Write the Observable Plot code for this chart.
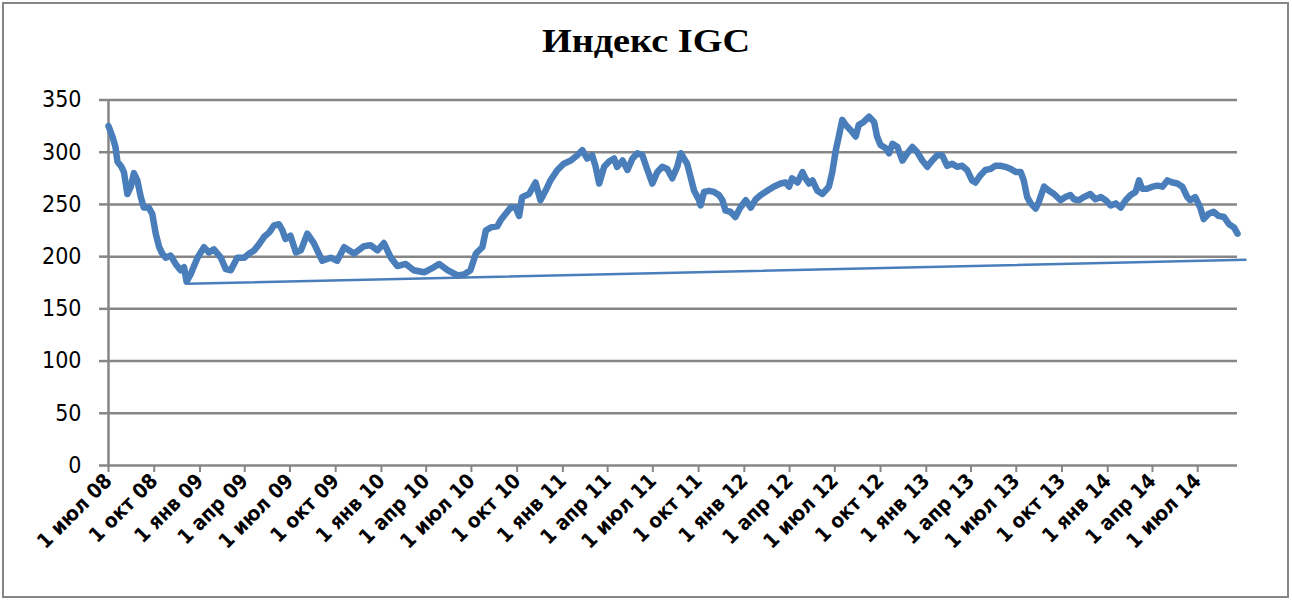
<!DOCTYPE html>
<html><head><meta charset="utf-8">
<script src="https://cdn.jsdelivr.net/npm/d3@7"></script>
<script src="https://cdn.jsdelivr.net/npm/@observablehq/plot@0.6"></script>
<style>
body{margin:0;background:#fff;}
#frame{position:absolute;left:2px;top:2px;width:1287px;height:596px;box-sizing:border-box;border:2px solid #868686;}
#title{position:absolute;left:0;top:23px;width:1292px;text-align:center;font:bold 33px/36px "Liberation Serif","Times New Roman",serif;color:#000;transform:scaleX(1.16);transform-origin:646px 0;}
#chart{position:absolute;left:0;top:80px;}
</style></head><body>
<div id="frame"></div>
<div id="title">Индекс IGC</div>
<div id="chart"></div>
<script>
// IGC index values
const dates = [
"2008-07-01","2008-07-09","2008-07-15","2008-07-19","2008-07-27","2008-08-01","2008-08-08","2008-08-15","2008-08-21","2008-08-28",
"2008-09-04","2008-09-10","2008-09-20","2008-09-27","2008-10-04","2008-10-11","2008-10-17","2008-10-24","2008-11-03","2008-11-13",
"2008-11-23","2008-11-30","2008-12-05","2008-12-13","2008-12-27","2009-01-09","2009-01-19","2009-01-29","2009-02-12","2009-02-22",
"2009-03-04","2009-03-17","2009-03-31","2009-04-10","2009-04-20","2009-04-30","2009-05-10","2009-05-20","2009-05-30","2009-06-09",
"2009-06-16","2009-06-22","2009-07-02","2009-07-13","2009-07-23","2009-08-05","2009-08-18","2009-09-04","2009-09-21","2009-10-04",
"2009-10-18","2009-11-07","2009-11-27","2009-12-10","2009-12-24","2010-01-06","2010-01-20","2010-02-02","2010-02-19","2010-03-07",
"2010-03-28","2010-04-17","2010-04-27","2010-05-14","2010-06-03","2010-06-16","2010-06-29","2010-07-10","2010-07-23","2010-07-30",
"2010-08-09","2010-08-22","2010-08-29","2010-09-08","2010-09-18","2010-09-28","2010-10-05","2010-10-11","2010-10-25","2010-11-07",
"2010-11-17","2010-11-27","2010-12-07","2010-12-21","2011-01-03","2011-01-17","2011-01-30","2011-02-09","2011-02-19","2011-03-01",
"2011-03-08","2011-03-15","2011-03-25","2011-04-04","2011-04-14","2011-04-20","2011-05-01","2011-05-11","2011-05-21","2011-05-31",
"2011-06-10","2011-06-20","2011-06-30","2011-07-10","2011-07-20","2011-07-30","2011-08-09","2011-08-19","2011-08-26","2011-09-08",
"2011-09-15","2011-09-22","2011-10-02","2011-10-05","2011-10-12","2011-10-22","2011-11-01","2011-11-11","2011-11-18","2011-11-24",
"2011-12-04","2011-12-14","2011-12-24","2012-01-04","2012-01-14","2012-01-24","2012-02-03","2012-02-16","2012-02-29","2012-03-14",
"2012-03-24","2012-03-31","2012-04-06","2012-04-17","2012-04-27","2012-05-03","2012-05-10","2012-05-17","2012-05-27","2012-06-06",
"2012-06-12","2012-06-19","2012-06-26","2012-07-03","2012-07-09","2012-07-16","2012-07-23","2012-08-02","2012-08-12","2012-08-18",
"2012-08-28","2012-09-08","2012-09-18","2012-09-24","2012-10-01","2012-10-11","2012-10-18","2012-10-25","2012-11-04","2012-11-14",
"2012-11-24","2012-12-04","2012-12-14","2012-12-24","2013-01-03","2013-01-13","2013-01-23","2013-02-02","2013-02-12","2013-02-22",
"2013-03-04","2013-03-14","2013-03-24","2013-04-03","2013-04-10","2013-04-20","2013-04-30","2013-05-10","2013-05-20","2013-05-30",
"2013-06-09","2013-06-20","2013-06-30","2013-07-10","2013-07-16","2013-07-23","2013-07-30","2013-08-09","2013-08-15","2013-08-26",
"2013-09-05","2013-09-15","2013-09-28","2013-10-08","2013-10-18","2013-10-25","2013-11-04","2013-11-14","2013-11-27","2013-12-07",
"2013-12-18","2013-12-28","2014-01-07","2014-01-17","2014-01-27","2014-02-06","2014-02-16","2014-02-26","2014-03-05","2014-03-11",
"2014-03-21","2014-04-01","2014-04-11","2014-04-21","2014-05-01","2014-05-11","2014-05-21","2014-05-31","2014-06-10","2014-06-16",
"2014-06-26","2014-07-06","2014-07-13","2014-07-23","2014-08-02","2014-08-12","2014-08-23","2014-09-02","2014-09-12","2014-09-19"
];
const values = [
325,315,305,291,286,281,260,267,280,273,
257,247,247,241,222,209,203,199,201,193,
187,190,176,183,199,209,204,207,199,188,
187,199,199,203,206,212,219,223,230,231,
225,217,220,204,206,222,213,196,199,196,
209,203,210,211,206,213,199,191,193,187,
185,190,193,187,182,183,187,203,209,225,
228,229,235,241,247,247,239,257,260,271,
254,263,273,283,289,292,297,302,294,297,
286,270,286,291,294,286,292,283,294,299,
297,283,270,281,286,284,275,286,299,289,
276,263,254,249,262,263,262,259,254,244,
243,238,247,254,247,255,259,263,267,270,
271,267,275,271,281,275,270,273,263,260,
263,267,281,302,315,331,326,321,315,326,
329,334,329,315,307,304,299,308,305,292,
299,305,300,292,286,292,297,297,287,289,
286,287,283,273,271,278,283,284,287,287,
286,284,281,281,273,257,251,246,252,267,
263,260,254,257,259,255,254,257,260,255,
257,254,249,251,247,254,259,262,273,265,
265,267,268,267,273,271,270,267,257,254,
257,247,236,241,243,239,238,231,228,222
];
// Linear trend line (start / end)
const trendDates = ["2008-12-05", "2014-10-05"];
const trendValues = [174, 197];

// Axis ticks
const xTickDates = ["2008-07-01","2008-10-01","2009-01-01","2009-04-01","2009-07-01","2009-10-01","2010-01-01","2010-04-01","2010-07-01","2010-10-01","2011-01-01","2011-04-01","2011-07-01","2011-10-01","2012-01-01","2012-04-01","2012-07-01","2012-10-01","2013-01-01","2013-04-01","2013-07-01","2013-10-01","2014-01-01","2014-04-01","2014-07-01"];
const xTickLabels = ["1 июл 08","1 окт 08","1 янв 09","1 апр 09","1 июл 09","1 окт 09","1 янв 10","1 апр 10","1 июл 10","1 окт 10","1 янв 11","1 апр 11","1 июл 11","1 окт 11","1 янв 12","1 апр 12","1 июл 12","1 окт 12","1 янв 13","1 апр 13","1 июл 13","1 окт 13","1 янв 14","1 апр 14","1 июл 14"];
const yTicks = [0, 50, 100, 150, 200, 250, 300, 350];
const xDomain = ["2008-07-01", "2014-09-19"];

const series = dates.map((d, i) => ({date: new Date(d), value: values[i]}));
const trend = trendDates.map((d, i) => ({date: new Date(d), value: trendValues[i]}));
const tickDates = xTickDates.map(d => new Date(d));
const labelOf = new Map(tickDates.map((d, i) => [+d, xTickLabels[i]]));

const gray = "#868686";
const blue = "#4a7ebb";

const chart = Plot.plot({
  width: 1292,
  height: 520,
  marginLeft: 108,
  marginRight: 55,
  marginTop: 19.5,
  marginBottom: 135,
  style: {fontFamily: "'DejaVu Sans Condensed','DejaVu Sans',sans-serif", color: "#000", background: "transparent"},
  x: {type: "utc", domain: xDomain.map(d => new Date(d))},
  y: {domain: [0, 350]},
  marks: [
    Plot.gridY(yTicks, {stroke: gray, strokeOpacity: 1, strokeWidth: 2.5}),
    Plot.ruleX([new Date(xDomain[0])], {stroke: gray, strokeWidth: 2.5}),
    Plot.axisY(yTicks, {tickSize: 9, tickPadding: 18, stroke: gray, strokeWidth: 2.5, fontSize: 23, label: null}),
    Plot.axisX(tickDates, {tickSize: 7, tickPadding: 5, stroke: gray, strokeWidth: 2, tickRotate: -45,
      tickFormat: d => labelOf.get(+d), fontSize: 20.5, fontWeight: "bold", label: null}),
    Plot.line(trend, {x: "date", y: "value", stroke: blue, strokeWidth: 2.5}),
    Plot.line(series, {x: "date", y: "value", stroke: blue, strokeWidth: 6.5, strokeLinejoin: "round", strokeLinecap: "round"})
  ]
});
document.getElementById("chart").appendChild(chart);
</script>
</body></html>
